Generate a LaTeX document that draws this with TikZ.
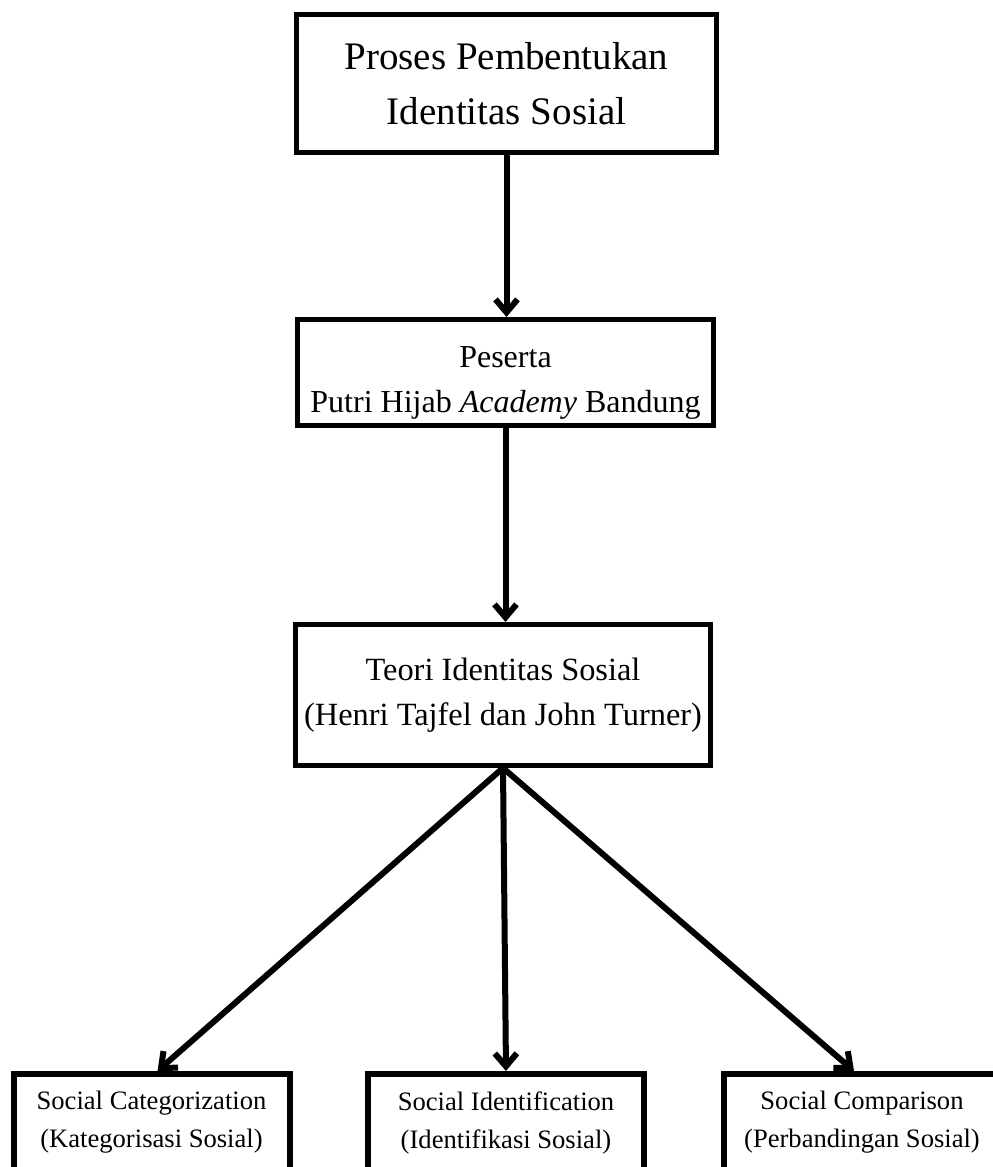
\documentclass[tikz,border=0pt]{standalone}
\usepackage{fontspec}
\setmainfont{Liberation Serif}
\usetikzlibrary{arrows.meta}
\begin{document}
\begin{tikzpicture}[x=0.5pt, y=-0.5pt, line join=miter, >={Straight Barb[length=6.5pt,width=11pt]},
	blok/.style={draw, line width=2.5pt, align=center, inner sep=0pt},
	bawah/.style={blok, line width=3pt, minimum width=138pt, minimum height=48.5pt, font=\fontsize{13.3}{19}\selectfont},
	panah/.style={->, line width=3pt}]
	\useasboundingbox (0,0) rectangle (992,1167);
	\node (proses) at (506.5,83.5) [blok, minimum width=210pt, minimum height=69pt, font=\fontsize{19.5}{27.5}\selectfont]{Proses Pembentukan\\Identitas Sosial};
	\node (peserta) at (505.5,372.5) [blok, minimum width=208pt, minimum height=53pt, font=\fontsize{16}{22.5}\selectfont]{\rule{0pt}{21pt}Peserta\\Putri Hijab \textit{Academy} Bandung};
	\node (teori) at (503,695) [blok, minimum width=207.5pt, minimum height=70.5pt, font=\fontsize{16.2}{22.5}\selectfont]{Teori Identitas Sosial\\(Henri Tajfel dan John Turner)};
	\node (kategori) at (151.5,1122.5) [bawah]{Social Categorization\\(Kategorisasi Sosial)};
	\node (identifikasi) at (506,1122.5) [bawah]{Social Identification\\(Identifikasi Sosial)};
	\node (banding) at (862,1122.5) [bawah]{Social Comparison\\(Perbandingan Sosial)};
	\draw[panah] (proses.south) -- (proses.south |- peserta.north);
	\draw[panah] (peserta.south) -- (peserta.south |- teori.north);
	\draw[panah] (teori.south) -- ([xshift=3pt]kategori.north);
	\draw[panah] (teori.south) -- (identifikasi.north);
	\draw[panah] (teori.south) -- ([xshift=-4pt]banding.north);
\end{tikzpicture}
\end{document}
